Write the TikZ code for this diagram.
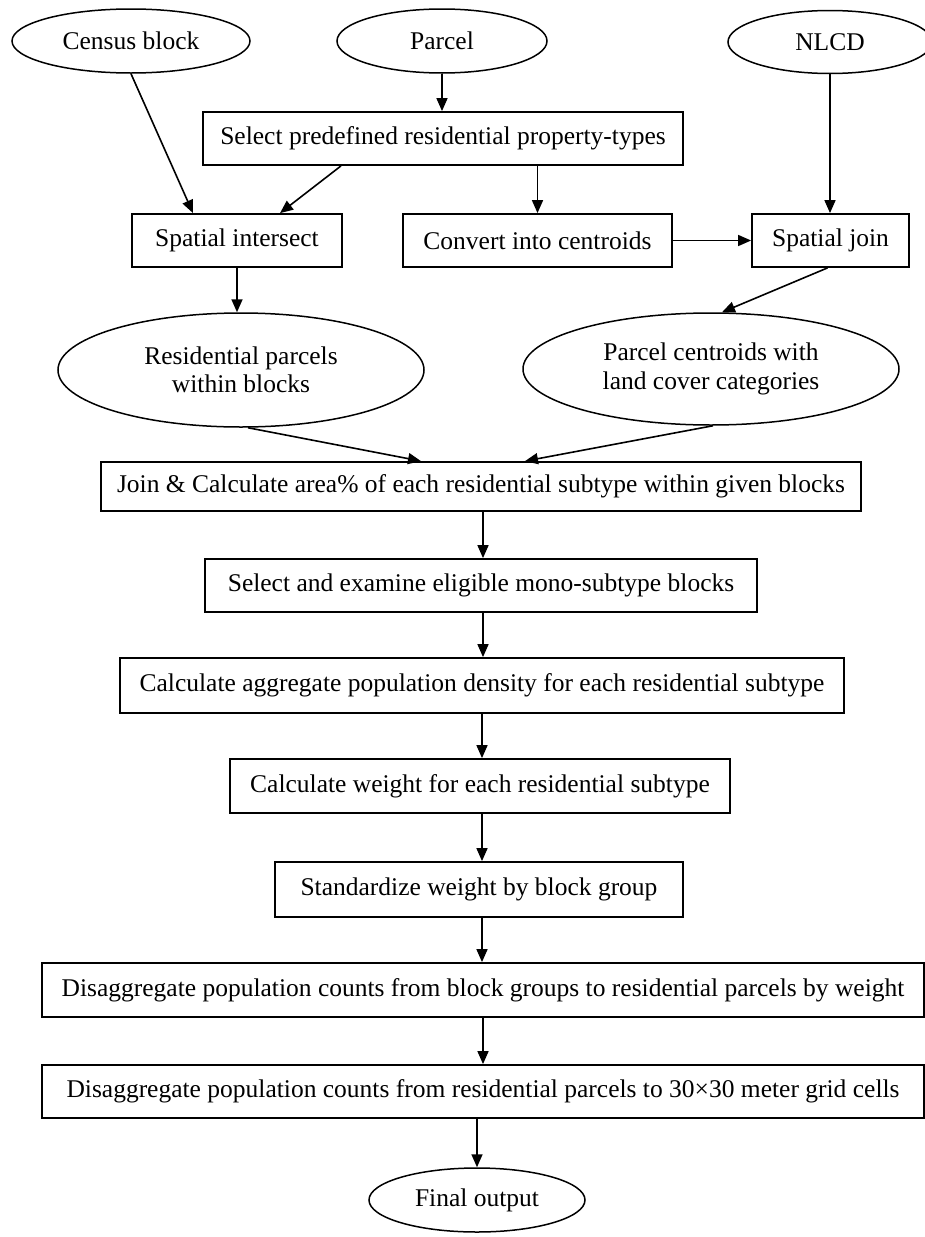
\documentclass[tikz,border=0pt]{standalone}
\usepackage{fontspec}
\setmainfont{Liberation Serif}
\usetikzlibrary{shapes.geometric,arrows.meta}
\tikzset{
  box/.style={draw, line width=1.8pt, rectangle, inner sep=0pt, align=center},
  oval/.style={draw, line width=1.5pt, ellipse, inner sep=0pt, align=center},
  arr/.style={line width=1.6pt, -{Triangle[length=13pt,width=11pt]}},
}
\begin{document}
\begin{tikzpicture}[x=1pt,y=-1pt, font=\fontsize{25.5}{28.5}\selectfont]
\useasboundingbox (0,0) rectangle (925,1237);
% ellipses at top
\node[oval, minimum width=238pt, minimum height=64pt] (cb) at (131,41) {Census block};
\node[oval, minimum width=210pt, minimum height=64pt] (pa) at (442,41) {Parcel};
\node[oval, minimum width=204pt, minimum height=63pt] (nl) at (830,42) {NLCD};
% boxes
\node[box, minimum width=480pt, minimum height=53pt] (sel) at (443,138.5) {Select predefined residential property-types};
\node[box, minimum width=210pt, minimum height=53pt] (si) at (237,240.5) {Spatial intersect};
\node[box, minimum width=269pt, minimum height=53pt] (cv) at (537.5,240.5) {Convert into centroids};
\node[box, minimum width=157pt, minimum height=53pt] (sj) at (830.5,240.5) {Spatial join};
\node[oval, minimum width=366pt, minimum height=114pt] (rp) at (241,370) {Residential parcels\\within blocks};
\node[oval, minimum width=376pt, minimum height=112pt] (pc) at (711,369) {Parcel centroids with\\land cover categories};
\node[box, minimum width=760pt, minimum height=49pt] (jn) at (481,486.5) {Join \& Calculate area\% of each residential subtype within given blocks};
\node[box, minimum width=552pt, minimum height=53pt] (se) at (481,585.5) {Select and examine eligible mono-subtype blocks};
\node[box, minimum width=724pt, minimum height=55pt] (ca) at (482,685.5) {Calculate aggregate population density for each residential subtype};
\node[box, minimum width=500pt, minimum height=54pt] (cw) at (480,786) {Calculate weight for each residential subtype};
\node[box, minimum width=408pt, minimum height=55pt] (sd) at (479,889.5) {Standardize weight by block group};
\node[box, minimum width=882pt, minimum height=54pt] (d1) at (483,990) {Disaggregate population counts from block groups to residential parcels by weight};
\node[box, minimum width=882pt, minimum height=53pt] (d2) at (483,1091.5) {Disaggregate population counts from residential parcels to 30×30 meter grid cells};
\node[oval, minimum width=216pt, minimum height=64pt] (fo) at (477,1200) {Final output};
% connectors
\draw[arr] (cb.south) -- ([xshift=-44pt]si.north);
\draw[arr] (pa.south) -- (pa.south |- sel.north);
\draw[arr] ([xshift=-102pt]sel.south) -- ([xshift=43pt]si.north);
\draw[arr] (cv.north |- sel.south) -- (cv.north);
\draw[arr] (nl.south) -- (nl.south |- sj.north);
\draw[arr] (cv.east) -- (sj.west);
\draw[arr] (si.south) -- (si.south |- rp.north);
\draw[arr] ([xshift=-3pt]sj.south) -- ([xshift=11pt]pc.north);
\draw[arr] ([xshift=7pt]rp.south) -- ([xshift=-60pt]jn.north);
\draw[arr] ([xshift=2pt]pc.south) -- ([xshift=44pt]jn.north);
\draw[arr] ([xshift=2pt]jn.south) -- ([xshift=2pt]jn.south |- se.north);
\draw[arr] ([xshift=2pt]se.south) -- ([xshift=2pt]se.south |- ca.north);
\draw[arr] (ca.south) -- (ca.south |- cw.north);
\draw[arr] ([xshift=2pt]cw.south) -- ([xshift=2pt]cw.south |- sd.north);
\draw[arr] ([xshift=3pt]sd.south) -- ([xshift=3pt]sd.south |- d1.north);
\draw[arr] (d1.south) -- (d2.north);
\draw[arr] (fo.north |- d2.south) -- (fo.north);
\end{tikzpicture}
\end{document}
